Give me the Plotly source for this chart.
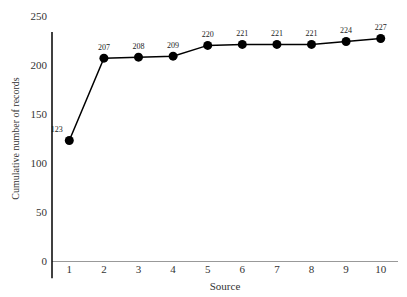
import plotly.graph_objects as go

sources = [1, 2, 3, 4, 5, 6, 7, 8, 9, 10]
cumulative = [123, 207, 208, 209, 220, 221, 221, 221, 224, 227]
y_ticks = [0, 50, 100, 150, 200, 250]

positions = ["top left"] + ["top center"] * (len(sources) - 1)

fig = go.Figure()
fig.add_trace(go.Scatter(
    x=sources, y=cumulative,
    mode="lines+markers+text",
    line=dict(color="black", width=1.5),
    marker=dict(color="black", size=9),
    text=[str(v) for v in cumulative],
    textposition=positions,
    textfont=dict(family="Liberation Serif", size=8, color="#222"),
    cliponaxis=False,
    showlegend=False,
))

# vertical axis line extending past zero
fig.add_shape(type="line", xref="paper", yref="paper",
              x0=0, x1=0, y0=-0.07, y1=0.935,
              line=dict(color="black", width=1.5))

# page body has an 8px margin, so the figure is sized to compensate
fig.update_layout(
    width=399, height=289,
    margin=dict(l=44, r=9, t=8, b=36),
    paper_bgcolor="white", plot_bgcolor="white",
    font=dict(family="Liberation Serif", size=11, color="#333"),
    xaxis=dict(
        range=[0.5, 10.5], tickvals=sources, showgrid=False,
        showline=False, zeroline=False, ticks="", automargin=False,
        title=dict(text="Source", standoff=8, font=dict(size=11)),
        tickfont=dict(size=11),
    ),
    yaxis=dict(
        range=[0, 250], tickvals=y_ticks, showgrid=False,
        showline=False, zeroline=True, zerolinecolor="#999", zerolinewidth=1,
        ticks="", ticklabelstandoff=4, automargin=False,
        title=dict(text="Cumulative number of records", standoff=9, font=dict(size=10)),
        tickfont=dict(size=11),
    ),
)

fig.write_html("out.html")
